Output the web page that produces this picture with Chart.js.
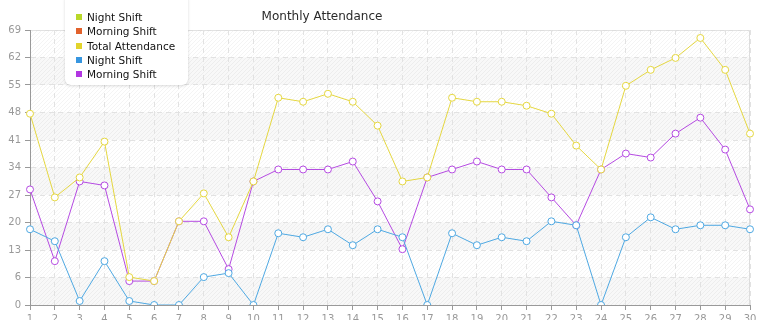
<!DOCTYPE html>
<html>
<head>
<meta charset="utf-8">
<script src="https://cdn.jsdelivr.net/npm/chart.js@4/dist/chart.umd.min.js"></script>
<style>
  body { margin: 0; background: #fff; overflow: hidden; }
  #wrap { position: relative; width: 765px; height: 320px; }
  #legend {
    position: absolute; left: 65px; top: -6px; width: 123px; height: 91px;
    background: #fff; border-radius: 6px;
    box-shadow: 0 1px 3px rgba(0,0,0,0.15);
    font-family: "DejaVu Sans", sans-serif; font-size: 10.5px; color: #111;
    box-sizing: border-box; padding-top: 16px;
  }
  #legend .item { height: 14.25px; line-height: 14.25px; position: relative; padding-left: 22px; white-space: nowrap; }
  #legend .sw { position: absolute; left: 11px; top: 4px; width: 6px; height: 6px; }
</style>
</head>
<body>
<div id="wrap">
  <canvas id="chart" width="765" height="320"></canvas>
  <div id="legend"></div>
</div>
<script>
// data
const days = ['1','2','3','4','5','6','7','8','9','10','11','12','13','14','15',
              '16','17','18','19','20','21','22','23','24','25','26','27','28','29','30'];
const totalAttendance = [48, 27, 32, 41, 7, 6, 21, 28, 17, 31, 52, 51, 53, 51, 45,
                         31, 32, 52, 51, 51, 50, 48, 40, 34, 55, 59, 62, 67, 59, 43];
const nightShift = [19, 16, 1, 11, 1, 0, 0, 7, 8, 0, 18, 17, 19, 15, 19,
                    17, 0, 18, 15, 17, 16, 21, 20, 0, 17, 22, 19, 20, 20, 19];
const morningShift = [29, 11, 31, 30, 6, 6, 21, 21, 9, 31, 34, 34, 34, 36, 26,
                      14, 32, 34, 36, 34, 34, 27, 20, 34, 38, 37, 43, 47, 39, 24];
const yTicks = [0, 6.9, 13.8, 20.7, 27.6, 34.5, 41.4, 48.3, 55.2, 62.1, 69];
const yTickLabels = ['0', '6', '13', '20', '27', '34', '41', '48', '55', '62', '69'];

const FONT = '"DejaVu Sans", sans-serif';

function lineSet(label, color, swatch, data) {
    return {
        label: label,
        data: data,
        borderColor: color,
        backgroundColor: swatch,
        borderWidth: 1,
        pointRadius: 3.5,
        pointHoverRadius: 3.5,
        pointBorderWidth: 1,
        pointBackgroundColor: '#fff',
        pointBorderColor: color,
        tension: 0,
        fill: false
    };
}

// striped + hatched plot background, frame on top/right
const hatch = document.createElement('canvas');
hatch.width = 4; hatch.height = 4;
(function () {
    const h = hatch.getContext('2d');
    h.strokeStyle = 'rgba(0,0,0,0.045)';
    h.lineWidth = 1;
    h.beginPath();
    h.moveTo(0, 4); h.lineTo(4, 0);
    h.moveTo(-1, 1); h.lineTo(1, -1);
    h.moveTo(3, 5); h.lineTo(5, 3);
    h.stroke();
})();

const backdrop = {
    id: 'backdrop',
    beforeDraw(chart) {
        const { ctx, chartArea: a, scales: { y } } = chart;
        ctx.save();
        for (let i = 0; i < yTicks.length - 1; i++) {
            const top = y.getPixelForValue(yTicks[i + 1]);
            const bot = y.getPixelForValue(yTicks[i]);
            if ((yTicks.length - 2 - i) % 2 === 1) {
                ctx.fillStyle = '#f8f8f8';
                ctx.fillRect(a.left, top, a.right - a.left, bot - top);
            }
        }
        ctx.fillStyle = ctx.createPattern(hatch, 'repeat');
        ctx.fillRect(a.left, a.top, a.right - a.left, a.bottom - a.top);
        ctx.strokeStyle = '#dddddd';
        ctx.lineWidth = 1;
        ctx.beginPath();
        ctx.moveTo(a.left, a.top + 0.5);
        ctx.lineTo(a.right - 0.5, a.top + 0.5);
        ctx.lineTo(a.right - 0.5, a.bottom);
        ctx.stroke();
        ctx.restore();
    },
    afterDraw(chart) {
        const ctx = chart.ctx;
        ctx.save();
        ctx.font = '12px ' + FONT;
        ctx.fillStyle = '#2a2a2a';
        ctx.textAlign = 'center';
        ctx.textBaseline = 'middle';
        ctx.fillText('Monthly Attendance', 322, 17);
        ctx.restore();
    }
};

const ctx = document.getElementById('chart').getContext('2d');
const chart = new Chart(ctx, {
    type: 'line',
    data: {
        labels: days,
        datasets: [
            lineSet('Night Shift', '#b9d829', '#b9d829', []),
            lineSet('Morning Shift', '#e2622c', '#e2622c', []),
            lineSet('Total Attendance', '#e5d740', '#e2d42c', totalAttendance),
            lineSet('Night Shift', '#4ea8e2', '#3796e0', nightShift),
            lineSet('Morning Shift', '#b54ae2', '#b236e2', morningShift)
        ]
    },
    options: {
        responsive: false,
        animation: false,
        layout: { padding: { top: 30, right: 15, left: 0, bottom: 0 } },
        plugins: {
            legend: { display: false },
            title: { display: false },
            tooltip: { enabled: false }
        },
        scales: {
            x: {
                offset: false,
                afterFit(s) { s.height = 15; },
                grid: {
                    color: '#e2e2e2',
                    tickLength: 5,
                    tickColor: '#999',
                    tickBorderDash: []
                },
                border: { color: '#999', dash: [5, 4] },
                ticks: {
                    color: '#999',
                    font: { family: FONT, size: 10 },
                    padding: 3,
                    autoSkip: false,
                    maxRotation: 0
                }
            },
            y: {
                min: 0,
                max: 69,
                afterFit(s) { s.width = 30; },
                afterBuildTicks(s) { s.ticks = yTicks.map(v => ({ value: v })); },
                grid: {
                    color: '#e2e2e2',
                    tickLength: 5,
                    tickColor: '#999',
                    tickBorderDash: []
                },
                border: { color: '#999', dash: [5, 4] },
                ticks: {
                    color: '#999',
                    font: { family: FONT, size: 10 },
                    padding: 4,
                    callback: (v, i) => yTickLabels[i]
                }
            }
        }
    },
    plugins: [backdrop]
});

// legend built from the datasets
const legend = document.getElementById('legend');
chart.data.datasets.forEach(ds => {
    const row = document.createElement('div');
    row.className = 'item';
    const sw = document.createElement('span');
    sw.className = 'sw';
    sw.style.background = ds.backgroundColor;
    row.appendChild(sw);
    row.appendChild(document.createTextNode(ds.label));
    legend.appendChild(row);
});
</script>
</body>
</html>
